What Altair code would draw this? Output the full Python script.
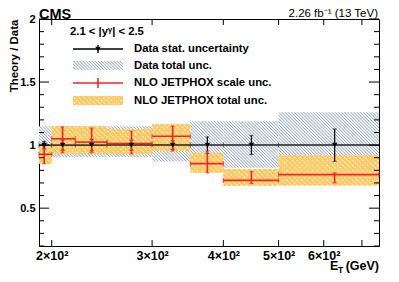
import math
import altair as alt
import pandas as pd

# ---------------- data ----------------
bin_lo = [190, 200, 220, 250, 300, 350, 400, 500]
bin_hi = [200, 220, 250, 300, 350, 400, 500, 750]
x_pt = [194, 209, 235, 276, 326, 375, 448, 627]
data_val = [1, 1, 1, 1, 1, 1, 1, 1]
stat_err = [0.03, 0.04, 0.045, 0.04, 0.035, 0.065, 0.075, 0.128]
tot_lo = [0.91, 0.905, 0.905, 0.905, 0.87, 0.81, 0.82, 0.74]
tot_hi = [1.15, 1.15, 1.15, 1.15, 1.16, 1.19, 1.19, 1.26]
nlo = [0.927, 1.05, 1.024, 1.013, 1.07, 0.853, 0.72, 0.766]
scale_lo = [0.853, 0.94, 0.94, 0.93, 0.953, 0.78, 0.695, 0.70]
scale_hi = [0.984, 1.144, 1.136, 1.11, 1.15, 0.953, 0.79, 0.78]
nlo_tot_lo = [0.85, 0.93, 0.93, 0.93, 0.953, 0.78, 0.677, 0.68]
nlo_tot_hi = [0.99, 1.15, 1.15, 1.126, 1.168, 0.94, 0.81, 0.92]

x_ticks = [200, 300, 400, 500, 600, 700]
x_labels = [200, 300, 400, 500, 600]
y_major = [0.5, 1.0, 1.5, 2.0]
y_minor = [0.2, 0.3, 0.4, 0.6, 0.7, 0.8, 0.9, 1.1, 1.2, 1.3, 1.4, 1.6, 1.7, 1.8, 1.9]

X_DOM = [190, 750]
Y_DOM = [0.2, 2.0]
W, H = 340, 227
FONT = "Liberation Sans"
RED = "#ff2020"
ORANGE = "#ffc65a"
HATCH_LINE = "#8fa3c1"
CLEAR = "rgba(255,255,255,0)"

df = pd.DataFrame({
    "i": list(range(len(bin_lo))),
    "lo": bin_lo, "hi": bin_hi, "xp": x_pt, "d": data_val,
    "slo": [v - e for v, e in zip(data_val, stat_err)],
    "shi": [v + e for v, e in zip(data_val, stat_err)],
    "tlo": tot_lo, "thi": tot_hi, "nlo": nlo,
    "sclo": scale_lo, "schi": scale_hi,
    "ntlo": nlo_tot_lo, "nthi": nlo_tot_hi,
})
one = pd.DataFrame({"k": [0]})

xscale = alt.Scale(type="log", domain=X_DOM, nice=False, zero=False)
yscale = alt.Scale(domain=Y_DOM, nice=False, zero=False)
xaxis = alt.Axis(values=x_labels, labelExpr="datum.value/100 + '×10²'",
                 labelFlush=False, labelPadding=3, labelFontSize=12.5, title="")
yaxis = alt.Axis(values=y_major, format="~g", labelPadding=4,
                 title="Theory / Data", titleFont=FONT, titleFontSize=11.5,
                 titleFontWeight="bold", titleAngle=270, titleAlign="right",
                 titleBaseline="alphabetic", titleX=-22, titleY=0)


def X(f):
    return alt.X(f, type="quantitative", scale=xscale, axis=xaxis)


def Y(f):
    return alt.Y(f, type="quantitative", scale=yscale, axis=yaxis)


def stripes(wpx, hpx, period, pattern, back=False):
    """Diagonal stripes as a linear gradient (fill style only).
    back=False -> '\\' lines, back=True -> '/' lines."""
    s = wpx + hpx
    q = wpx * wpx + hpx * hpx
    dx = wpx * s / q
    dy = hpx * s / q
    n = max(1, int(round(s / math.sqrt(2) / period)))
    stops = []
    for k in range(n):
        for off, col in pattern:
            stops.append(alt.GradientStop(offset=min(1.0, (k + off) / n), color=col))
    stops.append(alt.GradientStop(offset=1.0, color=pattern[0][1]))
    if back:
        return alt.LinearGradient(gradient="linear", x1=0, y1=0, x2=dx, y2=dy, stops=stops)
    return alt.LinearGradient(gradient="linear", x1=0, y1=1, x2=dx, y2=1 - dy, stops=stops)


HATCH_PAT = [(0.0, HATCH_LINE), (0.35, "#ffffff"), (0.65, "#ffffff")]
OR_PAT1 = [(0.0, ORANGE), (0.45, ORANGE), (0.72, "#ffffff"), (0.78, "#ffffff")]
OR_PAT2 = [(0.0, ORANGE), (0.45, ORANGE), (0.72, CLEAR), (0.78, CLEAR)]


def px_w(a, b):
    return W * (math.log(b) - math.log(a)) / (math.log(X_DOM[1]) - math.log(X_DOM[0]))


def px_h(a, b):
    return H * (b - a) / (Y_DOM[1] - Y_DOM[0])


base = alt.Chart(df)

hatch_layers = []
orange_layers = []
for i in range(len(bin_lo)):
    one_bin = base.transform_filter(alt.datum.i == i)
    wb = px_w(bin_lo[i], bin_hi[i])
    g = stripes(wb, px_h(tot_lo[i], tot_hi[i]), 2.2, HATCH_PAT)
    hatch_layers.append(one_bin.mark_rect(color=g).encode(
        x=X("lo"), x2="hi", y=Y("tlo"), y2="thi"))
    ho = px_h(nlo_tot_lo[i], nlo_tot_hi[i])
    orange_layers.append(one_bin.mark_rect(color=stripes(wb, ho, 3.6, OR_PAT1, back=True)).encode(
        x=X("lo"), x2="hi", y=Y("ntlo"), y2="nthi"))
    orange_layers.append(one_bin.mark_rect(color=stripes(wb, ho, 3.6, OR_PAT2)).encode(
        x=X("lo"), x2="hi", y=Y("ntlo"), y2="nthi"))

black_h = base.mark_rule(color="#222222", strokeWidth=1.5).encode(
    x=X("lo"), x2="hi", y=Y("d"))
black_edge = base.mark_tick(orient="vertical", size=5, thickness=1, color="#222222").encode(
    x=X("lo"), y=Y("d"))
black_v = base.mark_rule(color="#111111", strokeWidth=1.3).encode(
    x=X("xp"), y=Y("slo"), y2="shi")
black_cap_lo = base.mark_tick(orient="horizontal", size=4, thickness=1, color="#111111").encode(
    x=X("xp"), y=Y("slo"))
black_cap_hi = base.mark_tick(orient="horizontal", size=4, thickness=1, color="#111111").encode(
    x=X("xp"), y=Y("shi"))
black_pt = base.mark_point(shape="triangle-down", filled=True, size=30, color="black", opacity=1).encode(
    x=X("xp"), y=Y("d"))

red_h = base.mark_rule(color=RED, strokeWidth=1.6).encode(
    x=X("lo"), x2="hi", y=Y("nlo"))
red_edge_l = base.mark_tick(orient="vertical", size=5, thickness=1.2, color=RED).encode(
    x=X("lo"), y=Y("nlo"))
red_edge_r = base.mark_tick(orient="vertical", size=5, thickness=1.2, color=RED).encode(
    x=X("hi"), y=Y("nlo"))
red_v = base.mark_rule(color=RED, strokeWidth=1.6).encode(
    x=X("xp"), y=Y("sclo"), y2="schi")
red_cap_lo = base.mark_tick(orient="horizontal", size=4, thickness=1.2, color=RED).encode(
    x=X("xp"), y=Y("sclo"))
red_cap_hi = base.mark_tick(orient="horizontal", size=4, thickness=1.2, color=RED).encode(
    x=X("xp"), y=Y("schi"))

# axis ticks (inward, ROOT style)
ymaj = alt.Chart(pd.DataFrame({"v": y_major}))
ymin = alt.Chart(pd.DataFrame({"v": y_minor}))
xt = alt.Chart(pd.DataFrame({"v": x_ticks}))
tick_layers = [
    ymaj.mark_rule(color="black").encode(y=Y("v"), x=alt.value(0), x2=alt.value(10)),
    ymaj.mark_rule(color="black").encode(y=Y("v"), x=alt.value(W), x2=alt.value(W - 10)),
    ymin.mark_rule(color="black").encode(y=Y("v"), x=alt.value(0), x2=alt.value(5)),
    ymin.mark_rule(color="black").encode(y=Y("v"), x=alt.value(W), x2=alt.value(W - 5)),
    xt.mark_rule(color="black").encode(x=X("v"), y=alt.value(0), y2=alt.value(6)),
    xt.mark_rule(color="black").encode(x=X("v"), y=alt.value(H), y2=alt.value(H - 6)),
]

# legend (drawn inside the frame)
o = alt.Chart(one)
LX0, LX1, LXC, TX = 34, 84, 59, 95
R1, R2, R3, R4 = 30, 47, 64, 82
txt = dict(font=FONT, fontWeight="bold", fontSize=11.3, align="left", baseline="middle", color="black")
legend_layers = [
    o.mark_text(text="2.1 < |yᵞ| < 2.5", **txt).encode(x=alt.value(31), y=alt.value(13)),
    o.mark_rule(color="black", strokeWidth=1.3).encode(x=alt.value(LX0), x2=alt.value(LX1), y=alt.value(R1)),
    o.mark_rule(color="black", strokeWidth=1.3).encode(x=alt.value(LXC), y=alt.value(R1 - 4), y2=alt.value(R1 + 4)),
    o.mark_point(shape="triangle-down", filled=True, size=30, color="black", opacity=1).encode(
        x=alt.value(LXC), y=alt.value(R1)),
    o.mark_text(text="Data stat. uncertainty", **txt).encode(x=alt.value(TX), y=alt.value(R1)),
    o.mark_rect(color=stripes(LX1 - LX0, 9, 2.2, HATCH_PAT)).encode(
        x=alt.value(LX0), x2=alt.value(LX1), y=alt.value(R2 - 5), y2=alt.value(R2 + 4)),
    o.mark_text(text="Data total unc.", **txt).encode(x=alt.value(TX), y=alt.value(R2)),
    o.mark_rule(color=RED, strokeWidth=1.6).encode(x=alt.value(LX0), x2=alt.value(LX1), y=alt.value(R3)),
    o.mark_rule(color=RED, strokeWidth=1.6).encode(x=alt.value(LXC), y=alt.value(R3 - 5), y2=alt.value(R3 + 5)),
    o.mark_text(text="NLO JETPHOX scale unc.", **txt).encode(x=alt.value(TX), y=alt.value(R3)),
    o.mark_rect(color=stripes(LX1 - LX0, 9, 3.6, OR_PAT1, back=True)).encode(
        x=alt.value(LX0), x2=alt.value(LX1), y=alt.value(R4 - 5), y2=alt.value(R4 + 4)),
    o.mark_rect(color=stripes(LX1 - LX0, 9, 3.6, OR_PAT2)).encode(
        x=alt.value(LX0), x2=alt.value(LX1), y=alt.value(R4 - 5), y2=alt.value(R4 + 4)),
    o.mark_text(text="NLO JETPHOX total unc.", **txt).encode(x=alt.value(TX), y=alt.value(R4)),
]

# titles
title_layers = [
    o.mark_text(text="CMS", font=FONT, fontWeight="bold", fontSize=14.5, align="left",
                baseline="alphabetic", color="black").encode(x=alt.value(0), y=alt.value(0)),
    o.mark_text(text="2.26 fb⁻¹ (13 TeV)", font=FONT, fontSize=11.5, align="right",
                baseline="alphabetic", color="black").encode(x=alt.value(W - 1), y=alt.value(-2)),
    o.mark_text(text="E", font=FONT, fontWeight="bold", fontSize=12.5, align="left",
                baseline="alphabetic", color="black").encode(x=alt.value(291), y=alt.value(250.5)),
    o.mark_text(text="T", font=FONT, fontWeight="bold", fontSize=8.5, align="left",
                baseline="alphabetic", color="black").encode(x=alt.value(299), y=alt.value(253.5)),
    o.mark_text(text="(GeV)", font=FONT, fontWeight="bold", fontSize=12.5, align="right",
                baseline="alphabetic", color="black").encode(x=alt.value(W), y=alt.value(250.5)),
]

chart = alt.layer(
    *hatch_layers, *orange_layers, black_h, black_edge, black_v, black_cap_lo, black_cap_hi,
    red_h, red_edge_l, red_edge_r, red_v, red_cap_lo, red_cap_hi, black_pt,
    *tick_layers, *legend_layers, *title_layers,
).properties(
    width=W, height=H,
    autosize=alt.AutoSizeParams(type="none"),
    padding={"left": 31, "top": 11, "right": 10, "bottom": 27},
).configure_view(
    stroke="black", strokeWidth=1
).configure_axis(
    labelFont=FONT, labelFontWeight="bold", labelFontSize=11, labelColor="black",
    ticks=False, domain=False, grid=False,
)

chart.save("out.html", embed_options={"renderer": "svg", "actions": False})
